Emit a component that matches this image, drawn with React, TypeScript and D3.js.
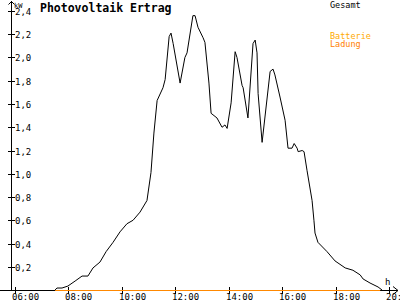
import React from "react";
import * as d3 from "d3";

// Gesamt (total PV output, kW) sampled in decimal hours
const gesamtTimes = [
  7.5, 7.57, 7.76, 7.98, 8.25, 8.51, 8.73, 8.92, 9.18, 9.41, 9.67, 9.93, 10.19, 10.42, 10.68, 10.94,
  11.09, 11.2, 11.32, 11.54, 11.62, 11.77, 11.84, 11.92, 12.18, 12.36, 12.44, 12.66, 12.74, 12.85,
  13.04, 13.11, 13.26, 13.34, 13.56, 13.75, 13.86, 13.94, 14.09, 14.24, 14.31, 14.5, 14.54, 14.72,
  14.91, 14.99, 15.06, 15.1, 15.25, 15.55, 15.66, 15.73, 15.92, 16.11, 16.22, 16.37, 16.45, 16.56,
  16.6, 16.75, 16.82, 16.93, 17.12, 17.19, 17.23, 17.34, 17.68, 17.98, 18.36, 18.65, 18.92, 19.03,
  19.29, 19.59, 19.74,
];
const gesamtValues = [
  0, 0.017, 0.017, 0.034, 0.077, 0.12, 0.12, 0.19, 0.24, 0.33, 0.41, 0.5, 0.57, 0.6, 0.67, 0.77,
  1.01, 1.35, 1.63, 1.74, 1.81, 2.18, 2.21, 2.12, 1.78, 2.0, 2.04, 2.36, 2.36, 2.26,
  2.17, 2.13, 1.78, 1.52, 1.48, 1.4, 1.42, 1.39, 1.61, 2.05, 2.0, 1.76, 1.74, 1.48,
  2.12, 2.15, 2.04, 1.69, 1.27, 1.88, 1.9, 1.85, 1.66, 1.46, 1.22, 1.22, 1.26, 1.22,
  1.19, 1.2, 1.19, 1.03, 0.77, 0.6, 0.49, 0.41, 0.33, 0.25, 0.19, 0.17, 0.13, 0.095,
  0.06, 0.026, 0,
];
// Batterie Ladung (battery charging, kW)
const batterieTimes = [7.5, 19.67];
const batterieValues = [0, 0];

const yTicks = [0.2, 0.4, 0.6, 0.8, 1.0, 1.2, 1.4, 1.6, 1.8, 2.0, 2.2, 2.4];
const xTicks = [6, 8, 10, 12, 14, 16, 18, 20];
const xTickLabels = ["06:00", "08:00", "10:00", "12:00", "14:00", "16:00", "18:00", "20:00"];

const title = "Photovoltaik Ertrag";
const legendGesamt = "Gesamt";
const legendBatt1 = "Batterie";
const legendBatt2 = "Ladung";

export default function App() {
  const x = d3.scaleLinear().domain([6, 20]).range([15, 389]);
  const y = d3.scaleLinear().domain([0, 2.4]).range([290, 11]);
  const axisX = 11.5;
  const axisY = 290.5;
  const font = "'DejaVu Sans Mono', monospace";

  const line = d3
    .line<[number, number]>()
    .x((d) => x(d[0]))
    .y((d) => y(d[1]));
  const gesamt = gesamtTimes.map((t, i) => [t, gesamtValues[i]] as [number, number]);
  const batt = batterieTimes.map((t, i) => [t, batterieValues[i]] as [number, number]);

  return (
    <svg
      width={400}
      height={300}
      style={{ position: "fixed", left: 0, top: 0, background: "#fff" }}
    >
      <rect x={0} y={0} width={400} height={300} fill="#fff" />
      {/* x axis */}
      <line x1={0} x2={398} y1={axisY} y2={axisY} stroke="#000" strokeWidth={1} />
      <path d={`M393,286.5 L398,${axisY} L393,294.5`} fill="none" stroke="#000" strokeWidth={1} />
      {/* y axis */}
      <line x1={axisX} x2={axisX} y1={1} y2={291} stroke="#000" strokeWidth={1} />
      <path d={`M8.5,4.5 L${axisX},1.5 L14.5,4.5`} fill="none" stroke="#000" strokeWidth={1} />
      {/* y ticks */}
      {yTicks.map((v) => (
        <g key={v}>
          <line x1={8} x2={15} y1={Math.round(y(v)) + 0.5} y2={Math.round(y(v)) + 0.5} stroke="#000" />
          <text x={15} y={Math.round(y(v)) + 3.5} fontFamily={font} fontSize={9} fill="#000">
            {v.toFixed(1).replace(".", ",")}
          </text>
        </g>
      ))}
      <text x={14} y={7.5} fontFamily={font} fontSize={7} fill="#000">kW</text>
      {/* x ticks */}
      {xTicks.map((t, i) => (
        <g key={t}>
          <line x1={Math.round(x(t)) + 0.5} x2={Math.round(x(t)) + 0.5} y1={287} y2={294} stroke="#000" />
          <text x={Math.round(x(t)) - 3} y={299.5} fontFamily={font} fontSize={9} fill="#000">
            {xTickLabels[i]}
          </text>
        </g>
      ))}
      <text x={385} y={285} fontFamily={font} fontSize={9} fill="#000">h</text>
      {/* series */}
      <path d={line(gesamt) || ""} fill="none" stroke="#000" strokeWidth={1} />
      <path
        d={line(batt) || ""}
        fill="none"
        stroke="#ff8800"
        strokeWidth={1.2}
        transform="translate(0,0.5)"
      />
      {/* title & legend */}
      <text x={40} y={11.5} fontFamily={font} fontSize={11.5} fontWeight="bold" fill="#000">
        {title}
      </text>
      <text x={330} y={8} fontFamily={font} fontSize={8.5} fill="#000">{legendGesamt}</text>
      <text x={330} y={38.5} fontFamily={font} fontSize={8.5} fill="#ffaa00">{legendBatt1}</text>
      <text x={330} y={46.5} fontFamily={font} fontSize={8.5} fill="#ff8000">{legendBatt2}</text>
    </svg>
  );
}
